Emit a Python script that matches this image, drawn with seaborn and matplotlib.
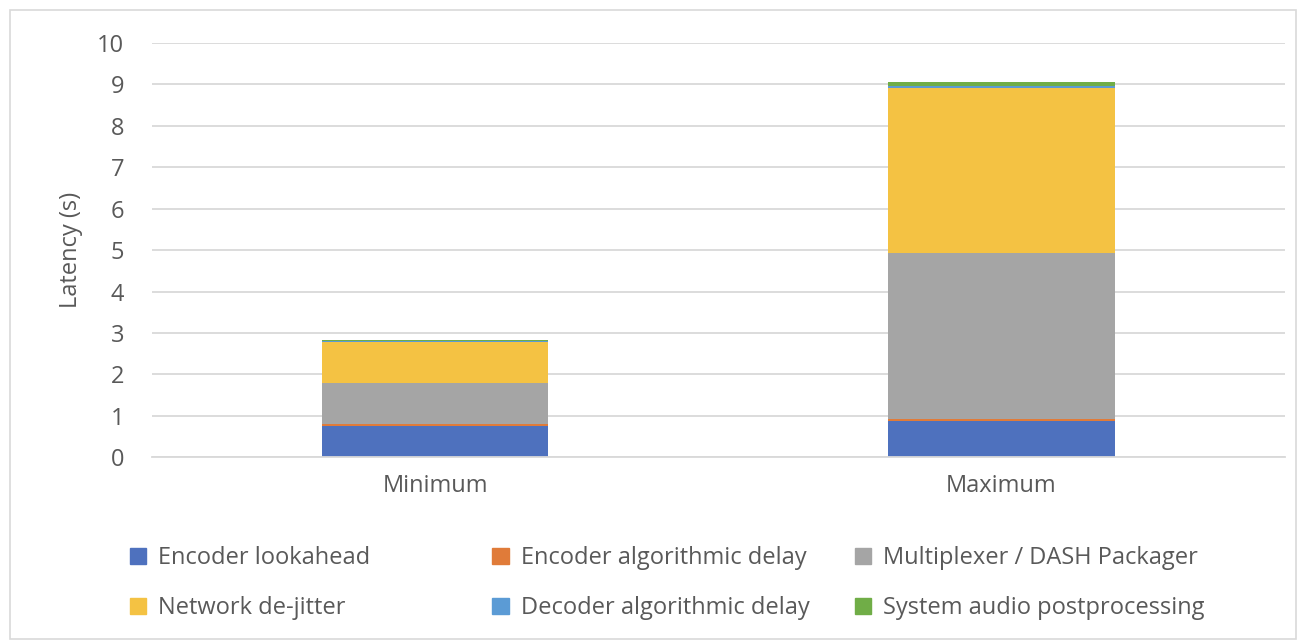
import pandas as pd
import matplotlib.pyplot as plt
import matplotlib.patches as mpatches
import seaborn as sns

# data (seconds)
scenarios = ['Minimum', 'Maximum']
components = ['Encoder lookahead', 'Encoder algorithmic delay',
              'Multiplexer / DASH Packager', 'Network de-jitter',
              'Decoder algorithmic delay', 'System audio postprocessing']
encoder_lookahead = [0.75, 0.88]
encoder_algorithmic = [0.04, 0.04]
mux_packager = [1.00, 4.00]
network_dejitter = [1.00, 4.00]
decoder_algorithmic = [0.02, 0.04]
audio_postprocessing = [0.03, 0.11]

colors = ['#4E71BE', '#E07B39', '#A5A5A5', '#F4C243', '#5B9BD5', '#70AD47']
text_color = '#595959'

sns.set_style('white')
plt.rcParams['font.family'] = ['Open Sans', 'DejaVu Sans']

df = pd.DataFrame({
    'scenario': scenarios,
    components[0]: encoder_lookahead,
    components[1]: encoder_algorithmic,
    components[2]: mux_packager,
    components[3]: network_dejitter,
    components[4]: decoder_algorithmic,
    components[5]: audio_postprocessing,
})
cum = df[components].cumsum(axis=1)
cum['scenario'] = df['scenario']

fig = plt.figure(figsize=(12.99, 6.43), dpi=100)
ax = fig.add_axes([0.117, 0.289, 0.872, 0.644])

# draw cumulative totals from the top down so each layer shows as a stack
for comp, col in reversed(list(zip(components, colors))):
    sns.barplot(data=cum, x='scenario', y=comp, color=col, width=0.4,
                linewidth=0, saturation=1, ax=ax)

ax.set_ylim(0, 10)
ax.set_yticks(range(0, 11))
ax.yaxis.grid(True, color='#D9D9D9', linewidth=1.3)
ax.set_axisbelow(True)
for s in ['top', 'right', 'left']:
    ax.spines[s].set_visible(False)
ax.spines['bottom'].set_color('#D9D9D9')
ax.spines['bottom'].set_linewidth(1.3)
ax.tick_params(axis='both', length=0, labelsize=17, colors=text_color)
ax.tick_params(axis='y', pad=20)
ax.tick_params(axis='x', pad=12)
ax.set_xlabel('')
ax.set_ylabel('Latency (s)', fontsize=17, color=text_color, labelpad=10)

# legend laid out row by row in three evenly spaced columns
handles = [mpatches.Patch(color=c, label=l) for c, l in zip(colors, components)]
col_x = [0.100, 0.379, 0.658]
for i, x in enumerate(col_x):
    leg = fig.legend(handles=[handles[i], handles[i + 3]], loc='center left',
                     bbox_to_anchor=(x, 0.093), frameon=False, fontsize=17,
                     labelcolor=text_color, handlelength=0.7, handleheight=0.7,
                     handletextpad=0.5, labelspacing=1.1,
                     borderpad=0, borderaxespad=0)

# outer chart border
fig.patches.append(mpatches.Rectangle((0.008, 0.006), 0.99, 0.978,
                                      transform=fig.transFigure, fill=False,
                                      edgecolor='#D9D9D9', linewidth=1.2))

fig.savefig('out.png', dpi=100)
